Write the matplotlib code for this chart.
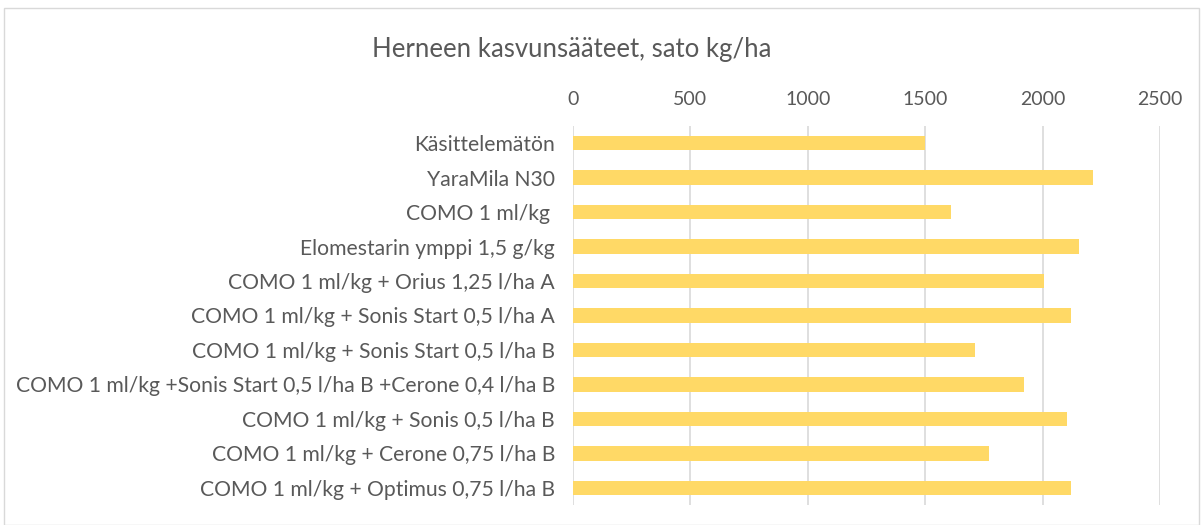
import matplotlib
matplotlib.use("Agg")
import matplotlib.pyplot as plt
from matplotlib.patches import Rectangle

# Pea growth regulators, yield kg/ha
treatments = [
    "Käsittelemätön",
    "YaraMila N30",
    "COMO 1 ml/kg ",
    "Elomestarin ymppi 1,5 g/kg",
    "COMO 1 ml/kg + Orius 1,25 l/ha A",
    "COMO 1 ml/kg + Sonis Start 0,5 l/ha A",
    "COMO 1 ml/kg + Sonis Start 0,5 l/ha B",
    "COMO 1 ml/kg +Sonis Start 0,5 l/ha B +Cerone 0,4 l/ha B",
    "COMO 1 ml/kg + Sonis 0,5 l/ha B",
    "COMO 1 ml/kg + Cerone 0,75 l/ha B",
    "COMO 1 ml/kg + Optimus 0,75 l/ha B",
]
yields = [1500, 2214, 1609, 2157, 2008, 2119, 1710, 1919, 2105, 1772, 2119]
xticks = [0, 500, 1000, 1500, 2000, 2500]

TEXT = "#595959"
plt.rcParams["font.family"] = ["Lato", "DejaVu Sans"]

fig = plt.figure(figsize=(12.03, 5.25), dpi=100)
fig.patches.append(Rectangle((4 / 1203, 0), 1195 / 1203, 1 - 8 / 525,
                             transform=fig.transFigure, fill=False,
                             edgecolor="#D9D9D9", lw=1))

ax = fig.add_axes([573 / 1203, 1 - 505 / 525, 587 / 1203, 379 / 525])
pos = list(range(len(treatments)))
ax.barh(pos, yields, height=0.42, color="#FFD966", zorder=2)
ax.set_ylim(len(treatments) - 0.5, -0.5)
ax.set_xlim(0, 2500)
ax.set_yticks(pos)
ax.set_yticklabels(treatments, fontsize=15.2, color=TEXT)
ax.set_xticks(xticks)
ax.set_xticklabels([str(t) for t in xticks], fontsize=14, color=TEXT)
ax.xaxis.tick_top()
ax.tick_params(axis="x", length=0, pad=13)
ax.tick_params(axis="y", length=0, pad=13)
ax.grid(axis="x", color="#D9D9D9", lw=1.2, zorder=0)
for s in ax.spines.values():
    s.set_visible(False)

fig.text(572 / 1203, 1 - 50 / 525, "Herneen kasvunsääteet, sato kg/ha",
         ha="center", va="center", fontsize=18.5, color=TEXT)

fig.savefig("out.png", dpi=100)
